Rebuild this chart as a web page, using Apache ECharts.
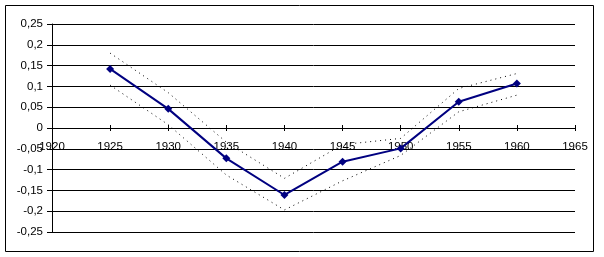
<!DOCTYPE html>
<html>
<head>
<meta charset="utf-8">
<script src="https://cdn.jsdelivr.net/npm/echarts@6/dist/echarts.min.js"></script>
<style>
html,body{margin:0;padding:0;background:#fff;}
#c{width:604px;height:257px;}
</style>
</head>
<body>
<div id="c"></div>
<script>
const years = [1925, 1930, 1935, 1940, 1945, 1950, 1955, 1960];
const mean  = [0.142, 0.046, -0.073, -0.161, -0.081, -0.049, 0.063, 0.107];
const upper = [0.180, 0.085, -0.034, -0.121, -0.040, -0.025, 0.095, 0.131];
const lower = [0.103, 0.008, -0.113, -0.197, -0.127, -0.066, 0.039, 0.079];

const pairs = arr => years.map((y, i) => [y, arr[i]]);
const fmt = v => String(+(+v).toFixed(2)).replace('.', ',');
const font = {fontFamily: 'Liberation Sans, Arial, sans-serif', fontSize: 11.5, color: '#000'};

const chart = echarts.init(document.getElementById('c'));
chart.setOption({
  animation: false,
  backgroundColor: '#fff',
  grid: {left: 52, right: 29, top: 24, bottom: 25},
  graphic: [{
    type: 'rect', shape: {x: 5.5, y: 5.5, width: 588, height: 246},
    style: {fill: 'none', stroke: '#000', lineWidth: 1}, z: -1
  }],
  xAxis: [{
    type: 'value', min: 1920, max: 1965, interval: 5,
    axisLine: {onZero: true, onZeroAxisIndex: 0, lineStyle: {color: '#000', width: 1}},
    axisTick: {show: true, inside: true, length: 3, lineStyle: {color: '#000'}},
    axisLabel: Object.assign({margin: -91, formatter: v => String(v), hideOverlap: false}, font),
    splitLine: {show: false}
  }, {
    type: 'value', min: 1920, max: 1965, interval: 5, position: 'bottom',
    axisLine: {onZero: true, onZeroAxisIndex: 1, lineStyle: {color: '#000', width: 1}},
    axisTick: {show: true, inside: false, length: 3, lineStyle: {color: '#000'}},
    axisLabel: {show: false},
    splitLine: {show: false}
  }],
  yAxis: [{
    type: 'value', min: -0.25, max: 0.25, interval: 0.05,
    axisLine: {show: true, lineStyle: {color: '#000', width: 1}},
    axisTick: {show: true, length: 5, lineStyle: {color: '#000'}},
    axisLabel: Object.assign({margin: 9, formatter: fmt}, font),
    splitLine: {show: true, lineStyle: {color: '#000', width: 1}}
  }, {
    type: 'value', min: -0.25, max: 0.25, interval: 0.05, position: 'left',
    axisLine: {show: false}, axisTick: {show: false}, axisLabel: {show: false},
    splitLine: {show: false}
  }],
  series: [{
    type: 'line', data: pairs(upper), symbol: 'none',
    lineStyle: {color: '#000', width: 1, type: [1, 4]}, z: 2
  }, {
    type: 'line', data: pairs(lower), symbol: 'none',
    lineStyle: {color: '#000', width: 1, type: [1, 4]}, z: 2
  }, {
    type: 'line', data: pairs(mean), symbol: 'diamond', symbolSize: 8,
    itemStyle: {color: '#000080'},
    lineStyle: {color: '#000080', width: 2}, z: 3
  }]
});
</script>
</body>
</html>
